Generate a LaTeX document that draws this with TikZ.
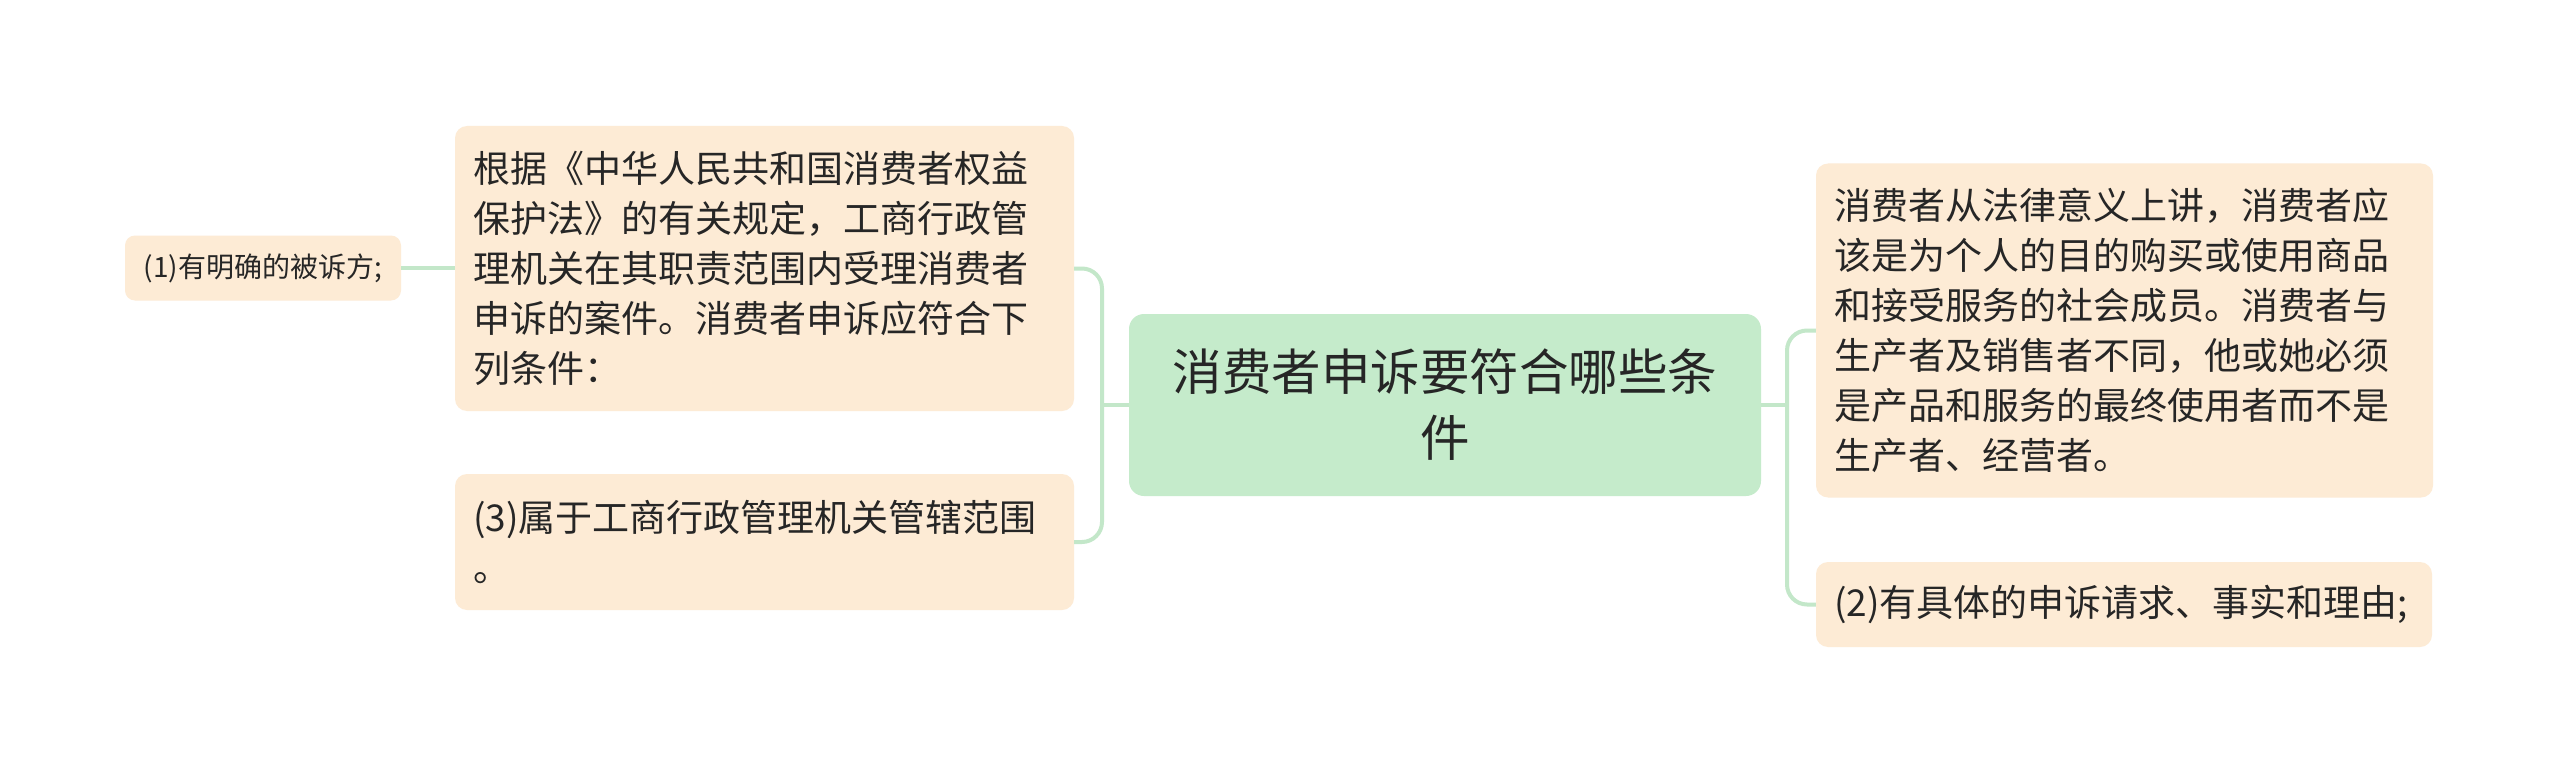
\documentclass[tikz,border=0pt]{standalone}
\usepackage{fontspec}
\setmainfont{Noto Sans CJK SC}
\definecolor{peach}{HTML}{FDEBD5}
\definecolor{mint}{HTML}{C5EBCB}
\definecolor{linkc}{HTML}{C3E7C9}
\definecolor{ink}{HTML}{262626}
\begin{document}
\begin{tikzpicture}[x=1pt,y=-1pt,
  leaf/.style={draw=none, fill=peach, rounded corners=12pt, inner xsep=18pt, inner ysep=0pt,
    align=left, text=ink, anchor=center, font=\fontsize{37}{50}\selectfont},
  small/.style={draw=none, fill=peach, rounded corners=10pt, inner sep=0pt,
    align=center, text=ink, anchor=center, font=\fontsize{28}{36}\selectfont},
  root/.style={draw=none, fill=mint, rounded corners=15pt, inner sep=0pt,
    align=center, text=ink, anchor=center, font=\fontsize{49.5}{66}\selectfont},
  link/.style={draw=linkc, line width=4pt, rounded corners=20pt}]
\useasboundingbox (0,0) rectangle (2560,773);
\fill[white] (0,0) rectangle (2560,773);

\node[root, minimum width=632pt, minimum height=182pt, text width=600pt] (ctr) at (1445,405)
  {消费者申诉要符合哪些条\\件};

\node[leaf, text width=583pt, minimum height=285pt] (a) at (764.5,268.5)
  {根据《中华人民共和国消费者权益\\保护法》的有关规定，工商行政管\\理机关在其职责范围内受理消费者\\申诉的案件。消费者申诉应符合下\\列条件：};

\node[leaf, text width=583pt, minimum height=136pt] (b) at (764.5,542)
  {(3)属于工商行政管理机关管辖范围\\。};

\node[small, minimum width=276pt, minimum height=65pt] (one) at (263,268)
  {(1)有明确的被诉方;};

\node[leaf, text width=581pt, minimum height=334pt] (c) at (2124.5,330.5)
  {消费者从法律意义上讲，消费者应\\该是为个人的目的购买或使用商品\\和接受服务的社会成员。消费者与\\生产者及销售者不同，他或她必须\\是产品和服务的最终使用者而不是\\生产者、经营者。};

\node[leaf, text width=580pt, minimum height=85pt] (d) at (2124,604.5)
  {(2)有具体的申诉请求、事实和理由;};

\coordinate (lt) at (1102,405);
\coordinate (rt) at (1787,405);

\draw[link] (ctr.west) -- (lt);
\draw[link] (a.east) -| (lt) |- (b.east);
\draw[link] (ctr.east) -- (rt);
\draw[link] (c.west) -| (rt) |- (d.west);
\draw[link] (one.east) -- (a.west |- one.east);
\end{tikzpicture}
\end{document}
